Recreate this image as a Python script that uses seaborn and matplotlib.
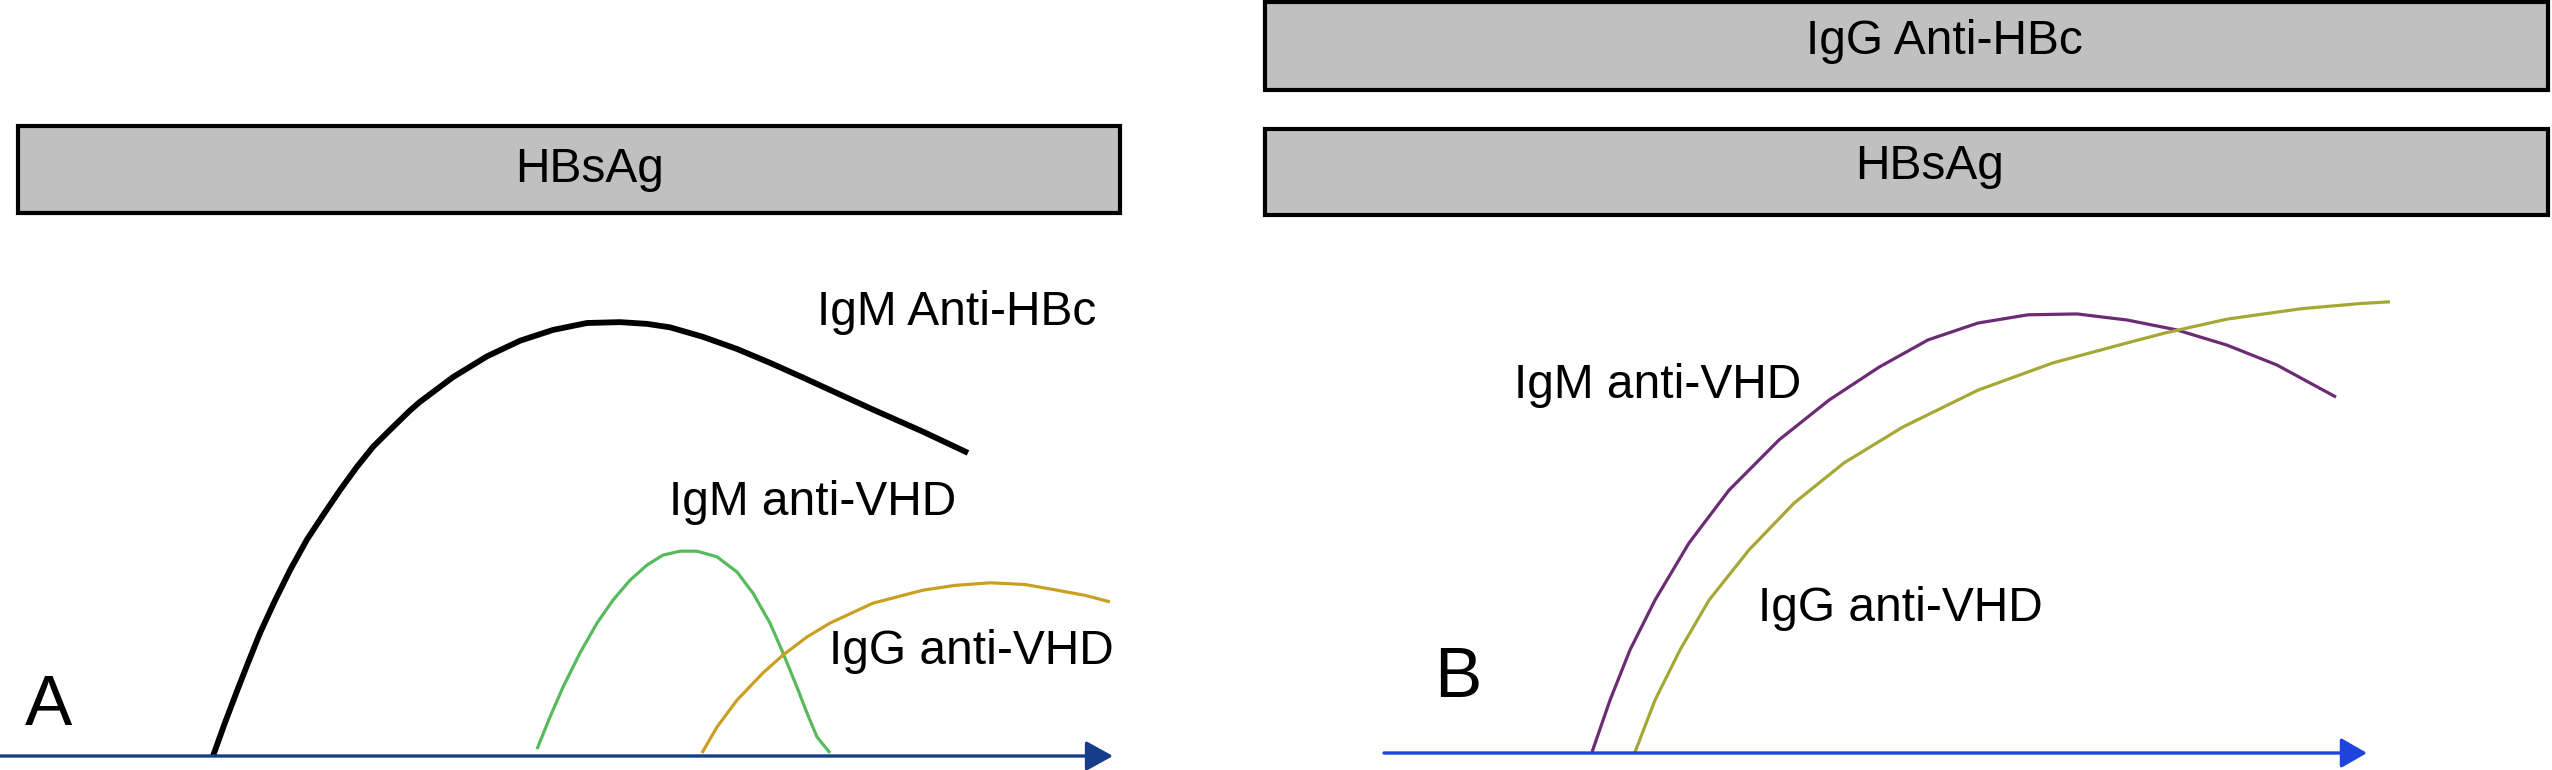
import pandas as pd
import matplotlib.pyplot as plt
import seaborn as sns

# ==========================================
# Data (time in weeks, relative titer)
# ==========================================

# panel A - acute infection
a_igm_hbc_t = [8.52, 9.0, 9.48, 9.92, 10.4, 11.0, 11.6, 12.28, 12.92, 13.6,
               14.28, 14.92, 15.6, 16.4, 16.8, 18.12, 19.48, 20.8, 22.12, 23.48,
               24.8, 25.88, 26.8, 28.12, 29.48, 30.8, 32.12, 32.8, 34.92, 36.92,
               38.72]
a_igm_hbc_v = [0.0, 7.7, 15.0, 21.5, 28.4, 35.9, 42.9, 50.0, 55.6, 61.4,
               66.8, 71.4, 75.3, 79.8, 81.8, 87.5, 92.3, 95.9, 98.4, 100.0,
               100.2, 99.8, 99.0, 96.8, 94.0, 90.8, 87.4, 85.6, 80.0, 74.9,
               70.0]

a_igm_vhd_t = [21.48, 22.0, 22.52, 23.2, 23.88, 24.52, 25.2, 25.88, 26.52, 27.2,
               27.88, 28.68, 29.48, 30.12, 30.8, 31.32, 31.88, 32.28, 32.68, 33.2]
a_igm_vhd_v = [1.6, 9.0, 15.9, 23.8, 30.7, 36.0, 40.6, 44.1, 46.4, 47.3,
               47.3, 46.0, 42.5, 37.6, 30.7, 23.8, 15.9, 9.9, 4.4, 0.7]

a_igg_vhd_t = [28.08, 28.68, 29.48, 30.52, 31.32, 32.28, 33.2, 34.92, 36.92, 38.2,
               39.6, 41.0, 42.28, 43.4, 44.4]
a_igg_vhd_v = [0.7, 6.7, 12.9, 19.2, 23.3, 27.5, 30.7, 35.3, 38.3, 39.4,
               40.0, 39.6, 38.3, 37.1, 35.6]

# panel B - chronic infection
b_igm_vhd_t = [8.32, 9.04, 9.84, 10.84, 12.2, 13.8, 15.8, 17.8, 19.8, 21.76,
               23.76, 25.76, 27.72, 29.72, 31.72, 33.72, 35.72, 38.08]
b_igm_vhd_v = [0.2, 12.2, 23.8, 35.3, 48.5, 60.7, 72.3, 81.5, 89.1, 95.4,
               99.3, 101.2, 101.4, 100.0, 97.7, 94.2, 89.6, 82.2]

b_igg_vhd_t = [10.04, 10.84, 11.84, 13.0, 14.6, 16.4, 18.4, 20.76, 23.76, 26.76,
               29.72, 31.24, 33.72, 36.68, 39.04, 40.24]
b_igg_vhd_v = [0.2, 12.2, 23.8, 35.3, 46.9, 57.7, 67.0, 75.3, 83.8, 90.1,
               94.7, 97.0, 100.2, 102.6, 103.8, 104.2]

# marker bars: name, start, end, low, high
a_bars = [("HBsAg", 0.72, 44.8, 125.4, 145.5)]
b_bars = [("IgG Anti-HBc", -4.76, 46.56, 153.1, 173.4),
          ("HBsAg", -4.76, 46.56, 124.2, 144.1)]

a_axis_end = 44.52
b_axis_end = 39.32

# ==========================================
# Style
# ==========================================

sns.set_theme(style="white")
plt.rcParams["font.family"] = ["Liberation Sans", "DejaVu Sans"]
plt.rcParams["text.color"] = "black"

FS = 34.5
PX_T = 25.0
PX_V = 4.33

fig = plt.figure(figsize=(25.52, 7.70), dpi=100)
ax_a = fig.add_axes([0, 0, 1250 / 2552, 1])
ax_b = fig.add_axes([1250 / 2552, 0, 1302 / 2552, 1])

ax_a.set_xlim(0, 1250 / PX_T)
ax_a.set_ylim((756 - 770) / PX_V, 756 / PX_V)
ax_b.set_xlim((1250 - 1384) / PX_T, (2552 - 1384) / PX_T)
ax_b.set_ylim((753 - 770) / PX_V, 753 / PX_V)


def long_df(series):
    rows = []
    for name, ts, vs in series:
        for t, v in zip(ts, vs):
            rows.append({"week": t, "titer": v, "marker": name})
    return pd.DataFrame(rows)


def draw_bars(ax, bars):
    for name, start, end, low, high in bars:
        ax.barh(y=(low + high) / 2, width=end - start, left=start,
                height=high - low, color="#c0c0c0", edgecolor="black",
                linewidth=3.0, zorder=2, clip_on=False)


# ==========================================
# Panel A
# ==========================================

df_a = long_df([
    ("IgM Anti-HBc", a_igm_hbc_t, a_igm_hbc_v),
    ("IgM anti-VHD A", a_igm_vhd_t, a_igm_vhd_v),
    ("IgG anti-VHD A", a_igg_vhd_t, a_igg_vhd_v),
])
pal_a = {"IgM Anti-HBc": "black", "IgM anti-VHD A": "#57bb5e", "IgG anti-VHD A": "#c9a021"}
sns.lineplot(data=df_a, x="week", y="titer", hue="marker", palette=pal_a,
             estimator=None, sort=False, legend=False, ax=ax_a, linewidth=2.3)
# thicker black line
ax_a.lines[0].set_linewidth(4.2)
for ln in ax_a.lines:
    ln.set_solid_capstyle("butt")
    ln.set_solid_joinstyle("round")

draw_bars(ax_a, a_bars)
ax_a.annotate("", xy=(a_axis_end, 0), xytext=(-1, 0),
              arrowprops=dict(arrowstyle="-|>,head_length=0.83,head_width=0.46",
                              mutation_scale=20, color="#163d8a", lw=2.4,
                              shrinkA=0, shrinkB=0), annotation_clip=False)

ax_a.text(23.6, 132.6, "HBsAg", fontsize=FS, ha="center", va="baseline", zorder=3)
ax_a.text(32.68, 99.5, "IgM Anti-HBc", fontsize=FS, va="baseline")
ax_a.text(26.76, 55.7, "IgM anti-VHD", fontsize=FS, va="baseline")
ax_a.text(33.16, 21.2, "IgG anti-VHD", fontsize=FS, va="baseline")
ax_a.text(1.0, 7.2, "A", fontsize=51, va="baseline")

# ==========================================
# Panel B
# ==========================================

df_b = long_df([
    ("IgM anti-VHD B", b_igm_vhd_t, b_igm_vhd_v),
    ("IgG anti-VHD B", b_igg_vhd_t, b_igg_vhd_v),
])
pal_b = {"IgM anti-VHD B": "#6b2c74", "IgG anti-VHD B": "#a5a834"}
sns.lineplot(data=df_b, x="week", y="titer", hue="marker", palette=pal_b,
             estimator=None, sort=False, legend=False, ax=ax_b, linewidth=2.3)
for ln in ax_b.lines:
    ln.set_solid_capstyle("butt")
    ln.set_solid_joinstyle("round")

draw_bars(ax_b, b_bars)
ax_b.annotate("", xy=(b_axis_end, 0), xytext=(0, 0),
              arrowprops=dict(arrowstyle="-|>,head_length=0.8,head_width=0.46",
                              mutation_scale=20, color="#1f44dd", lw=2.4,
                              shrinkA=0, shrinkB=0), annotation_clip=False)

ax_b.text(22.4, 161.4, "IgG Anti-HBc", fontsize=FS, ha="center", va="baseline", zorder=3)
ax_b.text(21.84, 132.6, "HBsAg", fontsize=FS, ha="center", va="baseline", zorder=3)
ax_b.text(5.2, 82.0, "IgM anti-VHD", fontsize=FS, va="baseline")
ax_b.text(14.96, 30.5, "IgG anti-VHD", fontsize=FS, va="baseline")
ax_b.text(2.0, 12.9, "B", fontsize=51, va="baseline")

for ax in (ax_a, ax_b):
    ax.set_axis_off()

plt.savefig("out.png", dpi=100)
plt.close()
